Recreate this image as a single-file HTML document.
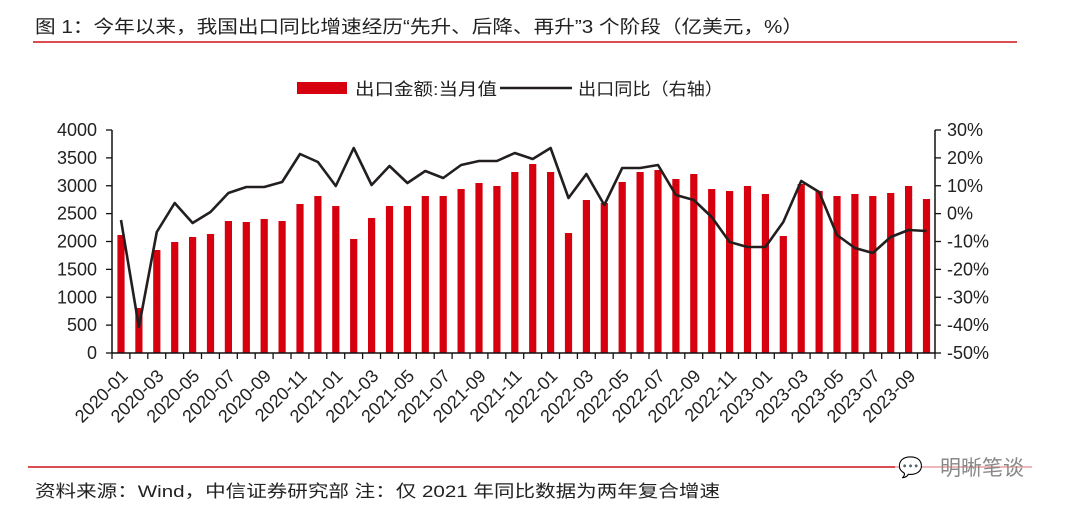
<!DOCTYPE html>
<html><head><meta charset="utf-8"><style>
body{margin:0;background:#fff;width:1080px;height:512px;overflow:hidden}
svg{display:block;font-family:"Liberation Sans","Noto Sans CJK SC",sans-serif}
</style></head><body>
<svg id="s" width="1080" height="512" viewBox="0 0 1080 512">
<text x="35" y="33" font-size="18" fill="#222" textLength="768" lengthAdjust="spacingAndGlyphs">图 1：今年以来，我国出口同比增速经历“先升、后降、再升”3 个阶段（亿美元，%）</text>
<line x1="33" y1="42" x2="1017" y2="42" stroke="#d0101a" stroke-width="1.6"/>
<rect x="297" y="82" width="50" height="12" fill="#d7000f"/>
<text x="355" y="95" font-size="17" fill="#222" textLength="142" lengthAdjust="spacingAndGlyphs">出口金额:当月值</text>
<line x1="500" y1="88" x2="572" y2="88" stroke="#231f1f" stroke-width="2.5"/>
<text x="578" y="95" font-size="17" fill="#222" textLength="145" lengthAdjust="spacingAndGlyphs">出口同比（右轴）</text>
<g id="g"></g>
<line x1="28" y1="467" x2="1032" y2="467" stroke="#d0101a" stroke-width="1.6"/>
<text x="35" y="497" font-size="17" fill="#222" textLength="685" lengthAdjust="spacingAndGlyphs">资料来源：Wind，中信证券研究部  注：仅 2021 年同比数据为两年复合增速</text>
<rect x="895" y="455" width="150" height="24" fill="#fff" opacity="0.6"/>
<text x="940" y="475" font-size="21" fill="#888">明晰笔谈</text>
<text x="898" y="474" font-size="20" fill="#aaa">💬</text>
</svg>
<script>
var bars=[235,308,250,242,237,234,221,222,219,221,204,196,206,239,218,206,206,196,196,189,183,186,172,164,172,233,200,203,182,172,170,179,174,189,191,186,194,236,184,191,196,194,196,193,186,199];
var line=[220,327,232,203,223,212,193,187,187,182,154,162,186,148,185,166,183,171,178,165,161,161,153,159,148,198,174,205,168,168,165,195,200,217,242,247,247,222,181,192,235,248,253,237,230,231];
var L=112,R=935,T=130,B=353,sp=17.9,h='';
function x(i){return 121+i*sp}
bars.forEach(function(t,i){h+='<rect x="'+(x(i)-3.6)+'" y="'+t+'" width="7.2" height="'+(B-t)+'" fill="#d7000f"/>';});
h+='<polyline fill="none" stroke="#231f1f" stroke-width="2.6" stroke-linejoin="round" points="'+line.map(function(v,i){return x(i)+','+v}).join(' ')+'"/>';
h+='<line x1="'+L+'" y1="'+T+'" x2="'+L+'" y2="'+B+'" stroke="#111" stroke-width="1.5"/>';
h+='<line x1="'+R+'" y1="'+T+'" x2="'+R+'" y2="'+B+'" stroke="#111" stroke-width="1.5"/>';
h+='<line x1="'+L+'" y1="'+B+'" x2="'+R+'" y2="'+B+'" stroke="#111" stroke-width="1.5"/>';
for(var k=0;k<=8;k++){var y=B-k*(B-T)/8;
h+='<line x1="'+(L-6)+'" y1="'+y+'" x2="'+L+'" y2="'+y+'" stroke="#111" stroke-width="1.3"/>';
h+='<line x1="'+R+'" y1="'+y+'" x2="'+(R+6)+'" y2="'+y+'" stroke="#111" stroke-width="1.3"/>';
h+='<text x="97" y="'+(y+6)+'" font-size="18" text-anchor="end" fill="#222">'+(k*500)+'</text>';
h+='<text x="947" y="'+(y+6)+'" font-size="18" fill="#222">'+(k*10-50)+'%</text>';}
for(var i=0;i<=46;i++){var xx=L+i*sp;if(xx>R)xx=R;h+='<line x1="'+xx+'" y1="'+B+'" x2="'+xx+'" y2="'+(B+6)+'" stroke="#111" stroke-width="1.3"/>';}
for(var i=0;i<46;i+=2){var yr=2020+Math.floor(i/12),m=i%12+1;var lab=yr+'-'+(m<10?'0':'')+m;
h+='<text transform="translate('+(x(i)+8)+',377) rotate(-45)" font-size="18" text-anchor="end" fill="#222">'+lab+'</text>';}
document.getElementById('g').innerHTML=h;
</script>
</body></html>
